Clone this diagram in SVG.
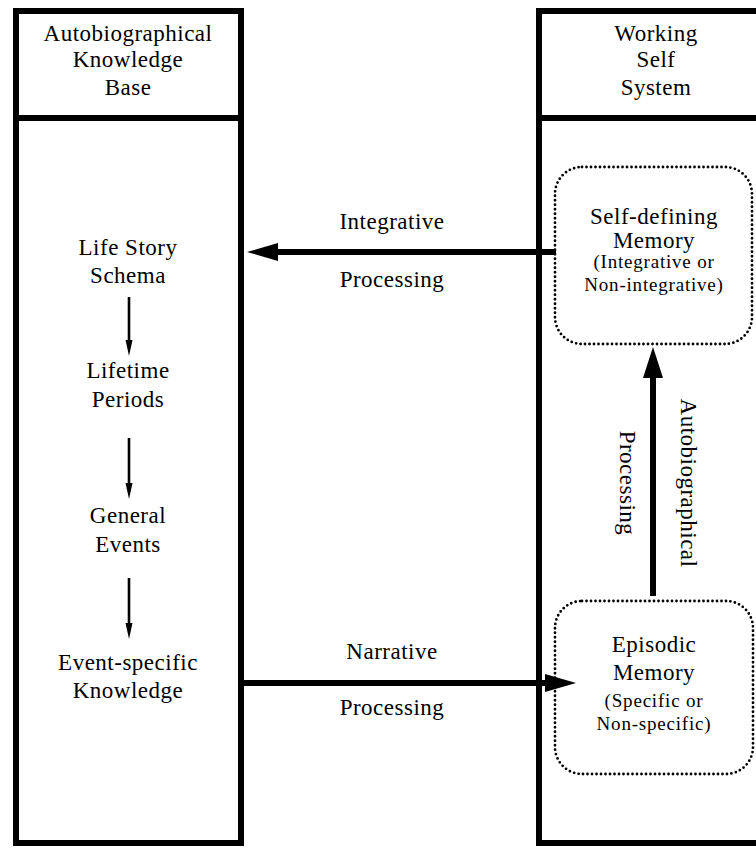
<svg xmlns="http://www.w3.org/2000/svg" width="756" height="848" viewBox="0 0 756 848">
<style>
  .frame { fill: none; stroke: #000; stroke-width: 6; }
  .dotted { fill: none; stroke: #000; stroke-width: 2.8; stroke-dasharray: 0 4.5; stroke-linecap: round; }
  .t { font-family: "Liberation Serif", "Times New Roman", serif; font-size: 23px; letter-spacing: 0.5px; fill: #000; text-anchor: middle; }
  .s { font-family: "Liberation Serif", "Times New Roman", serif; font-size: 19px; letter-spacing: 0.8px; fill: #000; text-anchor: middle; }
  .thick { stroke: #000; stroke-width: 6; fill: none; }
  .thin { stroke: #000; stroke-width: 2.6; fill: none; }
  .head { fill: #000; stroke: none; }
</style>
<rect width="756" height="848" fill="#fff"/>

<g id="autobiographical-knowledge-base">
  <rect class="frame" x="16" y="11" width="225" height="832"/>
  <line class="frame" x1="16" y1="118" x2="241" y2="118"/>
  <text class="t" x="128" y="41">Autobiographical</text>
  <text class="t" x="128" y="67">Knowledge</text>
  <text class="t" x="128" y="95">Base</text>
</g>

<g id="working-self-system">
  <rect class="frame" x="539" y="11" width="240" height="832"/>
  <line class="frame" x1="539" y1="118" x2="779" y2="118"/>
  <text class="t" x="656" y="41">Working</text>
  <text class="t" x="656" y="67">Self</text>
  <text class="t" x="656" y="95">System</text>
</g>

<g id="life-story-schema">
  <text class="t" x="128" y="255">Life Story</text>
  <text class="t" x="128" y="283">Schema</text>
</g>
<g id="lifetime-periods">
  <text class="t" x="128" y="378">Lifetime</text>
  <text class="t" x="128" y="407">Periods</text>
</g>
<g id="general-events">
  <text class="t" x="128" y="523">General</text>
  <text class="t" x="128" y="552">Events</text>
</g>
<g id="event-specific-knowledge">
  <text class="t" x="128" y="670">Event-specific</text>
  <text class="t" x="128" y="698">Knowledge</text>
</g>

<g id="self-defining-memory">
  <rect class="dotted" x="555" y="167" width="197" height="177" rx="27" ry="27"/>
  <text class="t" x="654" y="224">Self-defining</text>
  <text class="t" x="654" y="248">Memory</text>
  <text class="s" x="654" y="268">(Integrative or</text>
  <text class="s" x="654" y="291">Non-integrative)</text>
</g>

<g id="episodic-memory">
  <rect class="dotted" x="555" y="601" width="198" height="173" rx="27" ry="27"/>
  <text class="t" x="654" y="652">Episodic</text>
  <text class="t" x="654" y="680">Memory</text>
  <text class="s" x="654" y="707">(Specific or</text>
  <text class="s" x="654" y="730">Non-specific)</text>
</g>

<g id="connectors">
  <line class="thin" x1="129" y1="297" x2="129" y2="342"/>
  <polygon class="head" points="125.5,340 132.5,340 129,356"/>
  <line class="thin" x1="129" y1="438" x2="129" y2="485"/>
  <polygon class="head" points="125.5,483 132.5,483 129,499"/>
  <line class="thin" x1="129" y1="578" x2="129" y2="625"/>
  <polygon class="head" points="125.5,623 132.5,623 129,639"/>

  <line class="thick" x1="274" y1="252" x2="556" y2="252"/>
  <polygon class="head" points="247,252 278,243 278,261"/>
  <text class="t" x="392" y="229">Integrative</text>
  <text class="t" x="392" y="287">Processing</text>

  <line class="thick" x1="244" y1="683" x2="548" y2="683"/>
  <polygon class="head" points="576,683 545,674 545,692"/>
  <text class="t" x="392" y="659">Narrative</text>
  <text class="t" x="392" y="715">Processing</text>

  <line class="thick" x1="653" y1="596" x2="653" y2="374"/>
  <polygon class="head" points="653,347 643,378 663,378"/>
  <text class="t" transform="translate(681,483) rotate(90)" x="0" y="0">Autobiographical</text>
  <text class="t" transform="translate(620,483) rotate(90)" x="0" y="0">Processing</text>
</g>
</svg>
